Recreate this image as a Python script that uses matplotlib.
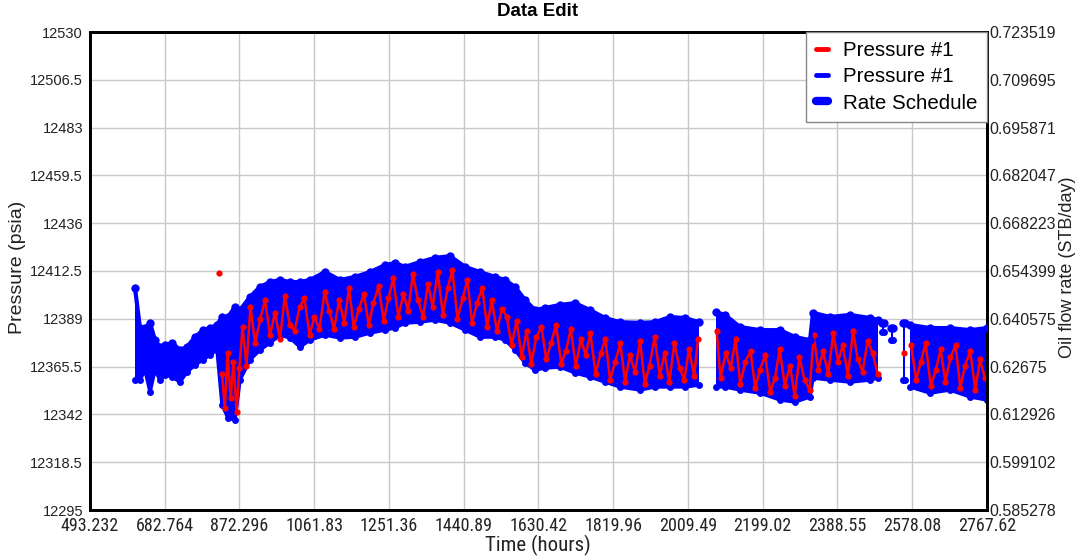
import matplotlib

matplotlib.use("Agg")
import matplotlib.pyplot as plt  # noqa: E402
import numpy as np  # noqa: E402
from matplotlib import font_manager  # noqa: E402
from matplotlib.lines import Line2D  # noqa: E402

BLUE = "#0000ff"
RED = "#ff0000"
GRID = "#c8c8c8"
INK = "#222222"
nan = np.nan

_fonts = font_manager.fontManager.ttflist
_names = {f.name for f in _fonts}
SANS = "Liberation Sans" if "Liberation Sans" in _names else "DejaVu Sans"
plt.rcParams["font.family"] = [SANS, "DejaVu Sans"]


def _narrow_font():
    # the axis under the plot uses a condensed face; take one if installed
    for key in ("LiberationSansNarrow-Regular", "RobotoCondensed-Regular", "DejaVuSansCondensed."):
        for f in _fonts:
            if key.lower() in f.fname.lower():
                return font_manager.FontProperties(fname=f.fname), True
    return font_manager.FontProperties(family=SANS), False


NARROW, HAVE_NARROW = _narrow_font()

# axis ticks
x_ticks = [493.232, 682.764, 872.296, 1061.83, 1251.36, 1440.89, 1630.42,
           1819.96, 2009.49, 2199.02, 2388.55, 2578.08, 2767.62]
x_labels = ["493.232", "682.764", "872.296", "1061.83", "1251.36", "1440.89", "1630.42",
            "1819.96", "2009.49", "2199.02", "2388.55", "2578.08", "2767.62"]
p_ticks = [12295, 12318.5, 12342, 12365.5, 12389, 12412.5, 12436, 12459.5, 12483, 12506.5, 12530]
p_labels = ["12295", "12318.5", "12342", "12365.5", "12389", "12412.5", "12436",
            "12459.5", "12483", "12506.5", "12530"]
q_ticks = [0.585278, 0.599102, 0.612926, 0.62675, 0.640575, 0.654399, 0.668223,
           0.682047, 0.695871, 0.709695, 0.723519]
q_labels = ["0.585278", "0.599102", "0.612926", "0.62675", "0.640575", "0.654399",
            "0.668223", "0.682047", "0.695871", "0.709695", "0.723519"]

# blue pressure #1: sampled upper / lower extent of the gauge readings (hours, psia)
env_t = [607.3, 620.0, 632.7, 645.4, 658.0, 670.7, 683.4, 701.2, 721.4, 739.2,
         759.5, 779.8, 797.5, 815.3, 828.0, 843.2, 860.9, 873.6, 898.9, 924.3,
         949.6, 975.0, 1000.4, 1025.7, 1051.1, 1089.1, 1127.1, 1165.2, 1203.2, 1241.3,
         1266.6, 1292.0, 1330.0, 1368.1, 1406.1, 1444.1, 1482.2, 1520.2, 1545.6, 1570.9,
         1596.3, 1621.6, 1646.9, 1685.0, 1723.0, 1761.0, 1799.1, 1837.1, 1887.8, 1925.9,
         1963.9, 2001.9, 2037.4, 2060.0, 2080.5, 2103.3, 2141.4, 2192.1, 2242.8, 2280.8,
         2318.9, 2326.4, 2369.6, 2420.3, 2471.0, 2491.3, 2497.0, 2502.0, 2506.0, 2515.0,
         2525.0, 2529.0, 2540.0, 2555.0, 2559.0, 2565.0, 2572.4, 2623.1, 2673.8, 2724.6,
         2767.6]
p_top = [12404.2, 12384.5, 12384.5, 12386.9, 12378.6, 12375.1, 12376.1, 12377.1, 12373.7, 12375.1,
         12380.0, 12383.5, 12384.5, 12385.9, 12389.9, 12389.9, 12394.8, 12393.3, 12399.7, 12404.6,
         12407.1, 12408.1, 12407.1, 12407.1, 12408.1, 12412.0, 12408.1, 12409.6, 12412.0, 12415.5,
         12416.4, 12414.5, 12416.9, 12418.9, 12419.9, 12414.5, 12412.0, 12409.6, 12408.1, 12404.6,
         12398.2, 12393.3, 12394.3, 12395.8, 12396.8, 12393.3, 12389.4, 12387.4, 12386.9, 12387.4,
         12389.9, 12389.4, 12387.4, nan, 12392.3, 12390.9, 12385.0, 12383.5, 12383.5, 12380.0,
         12378.6, 12391.8, 12389.9, 12390.9, 12389.4, 12388.4, nan, 12386.9, 12386.9, nan,
         12384.5, 12384.5, nan, 12386.9, 12386.9, nan, 12385.9, 12384.5, 12384.5, 12383.5,
         12384.5]
p_bot = [12358.9, 12358.9, 12363.8, 12353.0, 12363.8, 12358.9, 12361.4, 12360.4, 12357.9, 12362.8,
         12366.3, 12368.8, 12371.2, 12373.7, 12346.6, 12340.2, 12339.3, 12358.9, 12368.8, 12373.7,
         12377.1, 12381.0, 12379.6, 12375.1, 12378.6, 12381.0, 12379.6, 12380.0, 12382.0, 12383.5,
         12384.5, 12386.9, 12387.4, 12388.4, 12386.9, 12383.5, 12380.0, 12380.0, 12378.6, 12373.7,
         12367.3, 12363.8, 12364.8, 12365.3, 12362.4, 12360.4, 12357.9, 12355.5, 12354.0, 12355.5,
         12355.5, 12355.5, 12356.4, nan, 12355.5, 12355.5, 12354.0, 12352.5, 12349.1, 12348.1,
         12350.6, 12359.9, 12358.9, 12357.9, 12358.9, 12359.9, nan, 12382.5, 12382.5, nan,
         12378.6, 12378.6, nan, 12358.9, 12358.9, nan, 12355.5, 12352.5, 12354.0, 12350.6,
         12349.1]

# rate schedule (STB/day), same time stamps as above
rate = [0.6495, 0.6379, 0.6379, 0.6394, 0.6344, 0.6324, 0.6330, 0.6336, 0.6316, 0.6324,
        0.6353, 0.6373, 0.6379, 0.6388, 0.6411, 0.6411, 0.6440, 0.6431, 0.6469, 0.6498,
        0.6512, 0.6518, 0.6512, 0.6512, 0.6518, 0.6541, 0.6518, 0.6527, 0.6541, 0.6561,
        0.6567, 0.6556, 0.6570, 0.6582, 0.6587, 0.6556, 0.6541, 0.6527, 0.6518, 0.6498,
        0.6460, 0.6431, 0.6437, 0.6446, 0.6451, 0.6431, 0.6408, 0.6396, 0.6394, 0.6396,
        0.6411, 0.6408, 0.6396, nan, 0.6425, 0.6417, 0.6382, 0.6373, 0.6373, 0.6353,
        0.6344, 0.6423, 0.6411, 0.6417, 0.6408, 0.6402, nan, 0.6394, 0.6394, nan,
        0.6379, 0.6379, nan, 0.6394, 0.6394, nan, 0.6388, 0.6379, 0.6379, 0.6373,
        0.6379]

# red pressure #1 (hours, psia)
red_t = [820.3, 824, 828, 835, 842, 850, 857, 865, 872, 880,
         890, 900, 912, 925, 937, 950, 962, 975, 987, 1000,
         1012, 1025, 1037, 1050, 1062, 1075, 1088, 1100, 1112, 1125,
         1138, 1150, 1162, 1175, 1188, 1200, 1212, 1225, 1238, 1250,
         1262, 1275, 1288, 1300, 1312, 1325, 1338, 1350, 1362, 1375,
         1388, 1400, 1412, 1425, 1438, 1450, 1462, 1475, 1488, 1500,
         1512, 1525, 1538, 1550, 1562, 1575, 1588, 1600, 1612, 1625,
         1638, 1650, 1662, 1675, 1688, 1700, 1712, 1725, 1738, 1750,
         1762, 1775, 1788, 1800, 1812, 1825, 1838, 1850, 1862, 1875,
         1888, 1900, 1912, 1925, 1938, 1950, 1962, 1975, 1988, 2000,
         2012, 2025, 2035, 2058, 2082, 2092, 2105, 2118, 2130, 2142,
         2155, 2168, 2180, 2192, 2205, 2218, 2230, 2242, 2255, 2268,
         2280, 2292, 2305, 2318, 2328, 2340, 2352, 2365, 2378, 2390,
         2402, 2415, 2428, 2440, 2452, 2465, 2478, 2490, 2520, 2557,
         2566, 2575, 2588, 2600, 2612, 2625, 2638, 2650, 2662, 2675,
         2688, 2700, 2712, 2725, 2738, 2750, 2762]
red_p = [12411.5, nan, 12362, 12345, 12372, 12350, 12368, 12343, 12365, 12385,
         12366, 12395, 12377, 12389, 12398, 12381, 12392, 12379, 12400, 12386,
         12383, 12395, 12399, 12381, 12390, 12384, 12402, 12393, 12384, 12398,
         12387, 12404, 12385, 12394, 12401, 12386, 12397, 12405, 12388, 12399,
         12409, 12390, 12401, 12393, 12411, 12398, 12390, 12406, 12395, 12412,
         12391, 12404, 12413, 12389, 12399, 12408, 12387, 12397, 12404, 12385,
         12398, 12383, 12394, 12390, 12376, 12388, 12370, 12383, 12367, 12380,
         12385, 12369, 12377, 12386, 12367, 12373, 12384, 12366, 12379, 12371,
         12382, 12362, 12372, 12379, 12359, 12368, 12377, 12358, 12371, 12363,
         12378, 12357, 12366, 12380, 12361, 12372, 12358, 12377, 12365, 12359,
         12374, 12361, 12379, nan, 12383, 12360, 12372, 12365, 12379, 12357,
         12368, 12373, 12355, 12364, 12371, 12353, 12360, 12374, 12356, 12366,
         12351, 12370, 12359, 12354, 12381, 12364, 12373, 12362, 12382, 12368,
         12376, 12361, 12383, 12369, 12363, 12378, 12372, 12362, nan, 12372,
         nan, 12376, 12359, 12368, 12377, 12356, 12364, 12374, 12358, 12370,
         12376, 12355, 12366, 12373, 12354, 12369, 12360]

fig = plt.figure(figsize=(10.78, 5.58), dpi=100, facecolor="white")
ax = fig.add_axes([90 / 1078, 1 - 510 / 558, 897 / 1078, 478 / 558])
ax2 = ax.twinx()

ax.fill_between(env_t, p_bot, p_top, color=BLUE, linewidth=0, zorder=2)
ax.plot(env_t, p_bot, color=BLUE, lw=2.5, marker="o", ms=5, mew=0, zorder=2)
ax.plot(red_t, red_p, color=RED, lw=1.8, marker="o", ms=4.5, mew=0, zorder=3)
ax2.plot(env_t, rate, color=BLUE, lw=3, marker="o", ms=6, mew=0, zorder=4)

ax.set_xlim(493.232, 2767.62)
ax.set_ylim(12295, 12530)
ax2.set_ylim(0.585278, 0.723519)
ax.set_xticks(x_ticks)
ax.set_xticklabels(x_labels, color=INK)
for lab in ax.get_xticklabels():
    lab.set_fontproperties(NARROW)
    lab.set_fontsize(13 if HAVE_NARROW else 11.5)
ax.set_yticks(p_ticks)
ax.set_yticklabels(p_labels, fontsize=10.5, color=INK)
ax2.set_yticks(q_ticks)
ax2.set_yticklabels(q_labels, fontsize=11.5, color=INK)
ax.tick_params(length=0, pad=5)
ax2.tick_params(length=0, pad=2)
ax.grid(color=GRID, linewidth=1, zorder=0)
ax.set_axisbelow(True)
for a in (ax, ax2):
    for spine in a.spines.values():
        spine.set_linewidth(2)
        spine.set_color("black")

handles = [
    Line2D([0], [0], color=RED, lw=3.5, solid_capstyle="round"),
    Line2D([0], [0], color=BLUE, lw=3.5, solid_capstyle="round"),
    Line2D([0], [0], color=BLUE, lw=6, solid_capstyle="round"),
]
leg = ax2.legend(handles, ["Pressure #1", "Pressure #1", "Rate Schedule"],
                 loc="upper right", borderaxespad=0, fancybox=False, framealpha=1,
                 edgecolor="#888888", fontsize=14.8, handlelength=0.6, handletextpad=0.75,
                 labelspacing=0.35, borderpad=0.45)
leg.get_frame().set_linewidth(1)

fig.text(538 / 1078, 1 - 12 / 558, "Data Edit", ha="center", va="center",
         fontsize=13.5, fontweight="bold", color="black")
xlab = fig.text(538 / 1078, 1 - 545 / 558, "Time (hours)", ha="center", va="center",
                color=INK, fontproperties=NARROW)
xlab.set_fontsize(15 if HAVE_NARROW else 13.5)
fig.text(18 / 1078, 1 - 267 / 558, "Pressure (psia)", ha="center", va="center",
         rotation=90, fontsize=14, color=INK)
fig.text(1068 / 1078, 1 - 267 / 558, "Oil flow rate (STB/day)", ha="center", va="center",
         rotation=90, fontsize=13, color=INK)

fig.savefig("out.png", dpi=100, facecolor="white")
